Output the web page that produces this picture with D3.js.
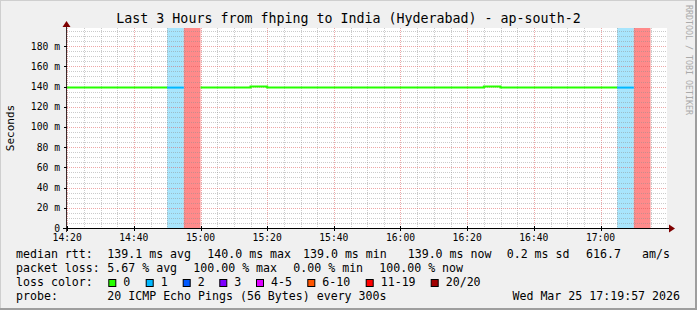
<!DOCTYPE html>
<html>
<head>
<meta charset="utf-8">
<script src="https://cdn.jsdelivr.net/npm/d3@7"></script>
<style>
  html, body { margin: 0; padding: 0; background: #f0f0f0; }
  svg { display: block; }
  text { font-family: 'DejaVu Sans Mono', monospace; }
</style>
</head>
<body>
<div id="chart"></div>
<script>
// chart data
const chartTitle = 'Last 3 Hours from fhping to India (Hyderabad) - ap-south-2';
const startTime = '2026-03-25 14:19:57';
const endTime = '2026-03-25 17:19:57';
const slotTimes = [
  '14:20', '14:25', '14:30', '14:35', '14:40', '14:45', '14:50', '14:55',
  '15:00', '15:05', '15:10', '15:15', '15:20', '15:25', '15:30', '15:35',
  '15:40', '15:45', '15:50', '15:55', '16:00', '16:05', '16:10', '16:15',
  '16:20', '16:25', '16:30', '16:35', '16:40', '16:45', '16:50', '16:55',
  '17:00', '17:05', '17:10', '17:15'
];
// median rtt in ms, null = no answer
const medianRtt = [
  139.0, 139.0, 139.0, 139.0, 139.0, 139.0, 139.0, null,
  139.0, 139.0, 139.0, 140.0, 139.0, 139.0, 139.0, 139.0,
  139.0, 139.0, 139.0, 139.0, 139.0, 139.0, 139.0, 139.0,
  139.0, 140.0, 139.0, 139.0, 139.0, 139.0, 139.0, 139.0,
  139.0, 139.0, null, null
];
// lost pings out of 20
const lostPings = [
  0, 0, 0, 0, 0, 0, 1, 20,
  0, 0, 0, 0, 0, 0, 0, 0,
  0, 0, 0, 0, 0, 0, 0, 0,
  0, 0, 0, 0, 0, 0, 0, 0,
  0, 1, 20, null
];
const lossLabels = ['0', '1', '2', '3', '4-5', '6-10', '11-19', '20/20'];
const lossMax = [0, 1, 2, 3, 5, 10, 19, 20];
const lossColors = ['#26ff00', '#00b8ff', '#0059ff', '#7e00ff', '#dd00ff', '#ff5500', '#ff0000', '#a00000'];
const lossBandColors = [null, '#a8e5fc', '#a6c4ff', '#d2b0ff', '#f2b0ff', '#ffbb99', '#ff9c9c', '#ff8a8a'];
const yTickValues = [0, 20, 40, 60, 80, 100, 120, 140, 160, 180];
const rttLegend = ['139.1 ms avg', '140.0 ms max', '139.0 ms min', '139.0 ms now', '0.2 ms sd', '616.7', 'am/s'];
const lossLegend = ['5.67 % avg', '100.00 % max', '0.00 % min', '100.00 % now'];
const probeText = '20 ICMP Echo Pings (56 Bytes) every 300s';
const stampText = 'Wed Mar 25 17:19:57 2026';

function drawChart() {
  const W = 697, H = 310;
  const plot = { left: 67, right: 667, top: 28, bottom: 228 };
  const parse = d3.timeParse('%Y-%m-%d %H:%M:%S');
  const t0 = parse(startTime), t1 = parse(endTime);

  const x = d3.scaleTime().domain([t0, t1]).range([plot.left, plot.right]);
  const y = d3.scaleLinear().domain([0, 198]).range([plot.bottom, plot.top]);

  const slots = slotTimes.map((s, i) => {
    const start = parse('2026-03-25 ' + s + ':00');
    const loss = lostPings[i];
    const bucket = loss == null ? null : lossMax.findIndex((m) => loss <= m);
    return { start, end: d3.timeMinute.offset(start, 5), rtt: medianRtt[i], bucket };
  });

  const svg = d3.select('#chart').append('svg')
    .attr('width', W).attr('height', H);

  // background + 3d border
  svg.append('rect').attr('width', W).attr('height', H).attr('fill', '#f0f0f0');
  svg.append('path').attr('d', `M0,${H} V0 H${W}`).attr('fill', 'none')
    .attr('stroke', '#cfcfcf').attr('stroke-width', 2);
  svg.append('path').attr('d', `M0,${H - 1} H${W - 1} V0`).attr('fill', 'none')
    .attr('stroke', '#9e9e9e').attr('stroke-width', 2);

  // canvas
  svg.append('rect')
    .attr('x', plot.left).attr('y', plot.top)
    .attr('width', plot.right - plot.left).attr('height', plot.bottom - plot.top)
    .attr('fill', '#fff');

  // loss bands
  svg.append('g').selectAll('rect')
    .data(slots.filter((d) => d.bucket != null && lossBandColors[d.bucket]))
    .enter().append('rect')
    .attr('x', (d) => x(d.start))
    .attr('y', plot.top)
    .attr('width', (d) => x(d.end) - x(d.start))
    .attr('height', plot.bottom - plot.top)
    .attr('fill', (d) => lossBandColors[d.bucket]);

  // grid
  const grid = svg.append('g').attr('stroke-dasharray', '1,1').attr('stroke-width', 1);
  const minorT = x.ticks(d3.timeMinute.every(5));
  grid.selectAll('line.vx').data(minorT).enter().append('line')
    .attr('x1', (d) => Math.round(x(d)) + 0.5).attr('x2', (d) => Math.round(x(d)) + 0.5)
    .attr('y1', plot.top).attr('y2', plot.bottom)
    .attr('stroke', (d) => (d.getMinutes() % 20 === 0 ? 'rgba(222,80,80,0.5)' : 'rgba(140,140,140,0.45)'));
  const minorY = y.ticks(40).filter((v) => v > 0);
  grid.selectAll('line.hy').data(minorY).enter().append('line')
    .attr('x1', plot.left).attr('x2', plot.right)
    .attr('y1', (d) => Math.round(y(d)) + 0.5).attr('y2', (d) => Math.round(y(d)) + 0.5)
    .attr('stroke', (d) => (d % 20 === 0 ? 'rgba(222,80,80,0.5)' : 'rgba(140,140,140,0.45)'));

  // median line, split in runs of the same loss colour
  const runs = [];
  slots.forEach((d) => {
    if (d.rtt == null) return;
    const last = runs[runs.length - 1];
    if (last && last.bucket === d.bucket && last.pts[last.pts.length - 1].end.getTime() === d.start.getTime()) {
      last.pts.push(d);
    } else {
      runs.push({ bucket: d.bucket, pts: [d] });
    }
  });
  const line = d3.line().x((p) => x(p[0])).y((p) => y(p[1])).curve(d3.curveStepAfter);
  svg.append('g').selectAll('path')
    .data(runs).enter().append('path')
    .attr('d', (r) => {
      const pts = r.pts.map((p) => [p.start, p.rtt]);
      const lastPt = r.pts[r.pts.length - 1];
      pts.push([lastPt.end, lastPt.rtt]);
      return line(pts);
    })
    .attr('fill', 'none')
    .attr('stroke', (r) => lossColors[r.bucket])
    .attr('stroke-width', 2);

  // axes
  const axisG = svg.append('g');
  axisG.append('line').attr('x1', plot.left - 4).attr('x2', plot.right + 4)
    .attr('y1', plot.bottom + 0.5).attr('y2', plot.bottom + 0.5)
    .attr('stroke', '#000').attr('stroke-width', 1);
  axisG.append('path')
    .attr('d', `M${plot.right + 2},${plot.bottom - 3.5} L${plot.right + 8},${plot.bottom + 0.5} L${plot.right + 2},${plot.bottom + 4.5} Z`)
    .attr('fill', '#7f0000');
  axisG.append('line').attr('x1', plot.left - 0.5).attr('x2', plot.left - 0.5)
    .attr('y1', plot.bottom + 4).attr('y2', plot.top - 4)
    .attr('stroke', '#3a2a2a').attr('stroke-width', 1);
  axisG.append('path')
    .attr('d', `M${plot.left - 4.5},${plot.top - 1} L${plot.left - 0.5},${plot.top - 7} L${plot.left + 3.5},${plot.top - 1} Z`)
    .attr('fill', '#7f0000');

  // x ticks and labels
  const majorT = x.ticks(d3.timeMinute.every(20));
  axisG.selectAll('line.xt').data(majorT).enter().append('line')
    .attr('x1', (d) => Math.round(x(d)) + 0.5).attr('x2', (d) => Math.round(x(d)) + 0.5)
    .attr('y1', plot.bottom - 2).attr('y2', plot.bottom + 3)
    .attr('stroke', '#000');
  svg.append('g').selectAll('text').data(majorT).enter().append('text')
    .attr('x', (d) => x(d)).attr('y', plot.bottom + 13)
    .attr('text-anchor', 'middle').attr('font-size', '9.7px')
    .text(d3.timeFormat('%H:%M'));

  // y ticks and labels
  axisG.selectAll('line.yt').data(yTickValues).enter().append('line')
    .attr('x1', plot.left - 3).attr('x2', plot.left)
    .attr('y1', (d) => Math.round(y(d)) + 0.5).attr('y2', (d) => Math.round(y(d)) + 0.5)
    .attr('stroke', '#000');
  svg.append('g').selectAll('text').data(yTickValues).enter().append('text')
    .attr('x', 60).attr('y', (d) => y(d) + 3.5)
    .attr('text-anchor', 'end').attr('font-size', '9.7px')
    .text((d) => (d === 0 ? '0' : d + ' m'));

  svg.append('text')
    .attr('transform', `translate(14,${(plot.top + plot.bottom) / 2}) rotate(-90)`)
    .attr('text-anchor', 'middle').attr('font-size', '11px')
    .text('Seconds');

  // title
  svg.append('text').attr('x', 348.5).attr('y', 23)
    .attr('text-anchor', 'middle').attr('font-size', '13.3px')
    .text(chartTitle);

  // rrdtool watermark
  svg.append('text')
    .attr('transform', 'translate(686,5) rotate(90)')
    .attr('font-size', '8.3px').attr('fill', '#aaa')
    .text('RRDTOOL / TOBI OETIKER');

  // legend
  const fs = '11.6px';
  const legend = svg.append('g').attr('font-size', fs);
  const rows = [258.3, 272.3, 286.3, 300];
  const rttX = [107.3, 207.3, 303, 407.7, 506.7, 586, 642];
  const lossX = [107.3, 193.3, 293.3, 379.3];
  const swatchX = [108.3, 145.7, 182.7, 219.3, 256, 307.3, 365.7, 430.7];

  legend.append('text').attr('x', 16).attr('y', rows[0]).text('median rtt:');
  legend.selectAll('text.rtt').data(rttLegend).enter().append('text')
    .attr('x', (d, i) => rttX[i]).attr('y', rows[0]).text((d) => d);

  legend.append('text').attr('x', 16).attr('y', rows[1]).text('packet loss:');
  legend.selectAll('text.loss').data(lossLegend).enter().append('text')
    .attr('x', (d, i) => lossX[i]).attr('y', rows[1]).text((d) => d);

  legend.append('text').attr('x', 16).attr('y', rows[2]).text('loss color:');
  const sw = legend.selectAll('g.sw').data(lossLabels).enter().append('g');
  sw.append('rect')
    .attr('x', (d, i) => swatchX[i] + 0.5).attr('y', 279.5)
    .attr('width', 7).attr('height', 7)
    .attr('fill', (d, i) => lossColors[i])
    .attr('stroke', '#000').attr('stroke-width', 1);
  sw.append('text')
    .attr('x', (d, i) => swatchX[i] + 15).attr('y', rows[2])
    .text((d) => d);

  legend.append('text').attr('x', 16).attr('y', rows[3]).text('probe:');
  legend.append('text').attr('x', 107.3).attr('y', rows[3]).text(probeText);
  legend.append('text').attr('x', 680).attr('y', rows[3])
    .attr('text-anchor', 'end').text(stampText);
}

document.addEventListener('DOMContentLoaded', drawChart);
</script>
</body>
</html>
